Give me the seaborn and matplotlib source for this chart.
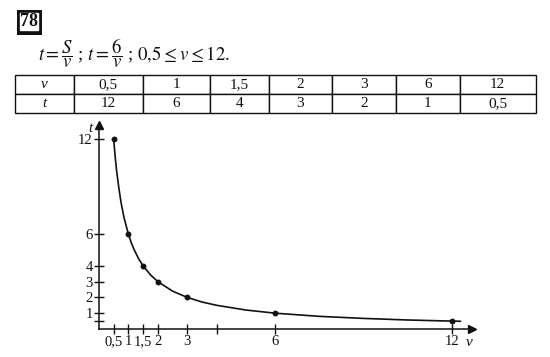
import matplotlib
matplotlib.use("Agg")
import matplotlib.pyplot as plt
import seaborn as sns
import pandas as pd

# ---- data ----
v_values = [0.5, 1, 1.5, 2, 3, 6, 12]
t_values = [12, 6, 4, 3, 2, 1, 0.5]

# points
curve_v = [0.5, 0.55, 0.6, 0.67, 0.75, 0.85, 1, 1.1, 1.2, 1.35, 1.5, 1.75, 2, 2.5, 3, 3.5, 4, 5, 6, 7.5, 9, 10.5, 12, 12.3]
curve_t = [12, 10.9, 10, 9, 8, 7.06, 6, 5.45, 5, 4.44, 4, 3.43, 3, 2.4, 2, 1.71, 1.5, 1.2, 1, 0.8, 0.67, 0.57, 0.5, 0.49]

x_ticks = [0.5, 1, 1.5, 2, 3, 4, 6, 12]
x_tick_labels = ["0,5", "1", "1,5", "2", "3", "", "6", "12"]
y_ticks = [0.5, 1, 2, 3, 4, 6, 12]
y_tick_labels = ["", "1", "2", "3", "4", "6", "12"]

def fmt(x):
    return ("%g" % x).replace(".", ",")

sns.set_theme(style="white")
plt.rcParams["font.family"] = ["Liberation Serif", "DejaVu Serif"]
plt.rcParams["mathtext.fontset"] = "stix"

W, H = 550, 357
fig = plt.figure(figsize=(W / 100, H / 100), dpi=100)
fig.patch.set_facecolor("white")

def fx(px):
    return px / W

def fy(py):
    return 1 - py / H

# ---- problem number box ----
box_ax = fig.add_axes([fx(17), fy(35), fx(25), 25 / H])
box_ax.set_xlim(0, 1); box_ax.set_ylim(0, 1); box_ax.axis("off")
box_ax.add_patch(plt.Rectangle((0, 0), 1, 1, color="#111111"))
box_ax.add_patch(plt.Rectangle((0.13, 0.2), 0.7, 0.68, color="white"))
box_ax.text(0.48, 0.53, "78", ha="center", va="center", fontsize=13,
            fontweight="bold", color="#111111")

# ---- formula line ----
fig.text(fx(38), fy(61),
         r"$t=\dfrac{S}{v}$ ; $t=\dfrac{6}{v}$ ; $0{,}5\leq v\leq 12.$",
         fontsize=13.5, ha="left", va="baseline", color="#111111")

# ---- table ----
tab_ax = fig.add_axes([fx(15), fy(113), fx(536 - 15), 38 / H])
tab_ax.axis("off")
bounds = [15, 74, 142.5, 210, 268.5, 332, 396, 459.5, 536]
widths = [(bounds[i + 1] - bounds[i]) / (bounds[-1] - bounds[0]) for i in range(len(bounds) - 1)]
cell_text = [["v"] + [fmt(v) for v in v_values], ["t"] + [fmt(t) for t in t_values]]
table = tab_ax.table(cellText=cell_text, colWidths=widths, cellLoc="center", bbox=[0, 0, 1, 1])
table.auto_set_font_size(False)
for (r, c), cell in table.get_celld().items():
    cell.set_linewidth(1.0)
    cell.set_edgecolor("#111111")
    cell.get_text().set_fontsize(11)
    cell.get_text().set_color("#111111")
    if c == 0:
        cell.get_text().set_style("italic")

# ---- graph ----
x0, y0 = 99, 329
sx, sy = 29.4, 15.8
x_end, y_end = 472, 125
ax = fig.add_axes([fx(x0), fy(y0), fx(x_end - x0), (y0 - y_end) / H])
ax.set_xlim(0, (x_end - x0) / sx)
ax.set_ylim(0, (y0 - y_end) / sy)
ax.set_facecolor("none")

df_curve = pd.DataFrame({"v": curve_v, "t": curve_t})
df_pts = pd.DataFrame({"v": v_values, "t": t_values})
sns.lineplot(data=df_curve, x="v", y="t", sort=False, estimator=None,
             color="#111111", linewidth=1.2, ax=ax)
sns.scatterplot(data=df_pts, x="v", y="t", color="#111111", s=18,
                edgecolor="#111111", linewidth=0, ax=ax, zorder=5)

for side in ["top", "right"]:
    ax.spines[side].set_visible(False)
for side in ["left", "bottom"]:
    ax.spines[side].set_linewidth(1.1)
    ax.spines[side].set_color("#111111")

ax.set_xticks(x_ticks)
ax.set_xticklabels(x_tick_labels)
ax.set_yticks(y_ticks)
ax.set_yticklabels(y_tick_labels)
ax.tick_params(axis="both", direction="inout", length=7, width=1.0,
               color="#111111", labelsize=10.5, labelcolor="#111111",
               bottom=True, left=True, top=False, right=False)
ax.tick_params(axis="x", pad=1)
ax.tick_params(axis="y", pad=1)
ax.set_xlabel("")
ax.set_ylabel("")

# arrow heads
ax.plot(1, 0, ">", color="#111111", markersize=6, transform=ax.transAxes, clip_on=False)
ax.plot(0, 1, "^", color="#111111", markersize=6, transform=ax.transAxes, clip_on=False)

# axis names
fig.text(fx(90), fy(128), "t", style="italic", fontsize=11, ha="center", va="center", color="#111111")
fig.text(fx(469), fy(343), "v", style="italic", fontsize=11, ha="center", va="center", color="#111111")

fig.savefig("out.png", dpi=100)
